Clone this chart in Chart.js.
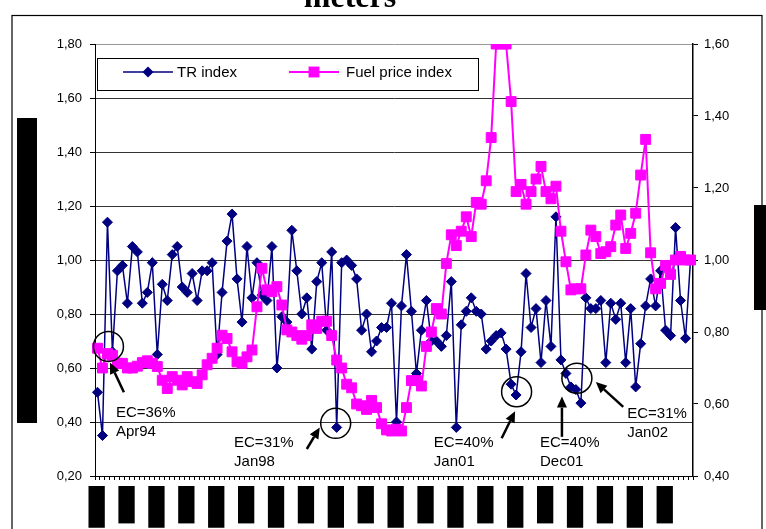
<!DOCTYPE html>
<html>
<head>
<meta charset="utf-8">
<script src="https://cdn.jsdelivr.net/npm/chart.js@4.4.1/dist/chart.umd.min.js"></script>
<style>
  body { margin: 0; background: #fff; }
  #chart { display: block; }
</style>
</head>
<body>
<canvas id="chart" width="766" height="529"></canvas>
<script>
// monthly categories Jan94 .. Dec03
const monthNames = ['Jan', 'Feb', 'Mar', 'Apr', 'May', 'Jun', 'Jul', 'Aug', 'Sep', 'Oct', 'Nov', 'Dec'];
const years = ['94', '95', '96', '97', '98', '99', '00', '01', '02', '03'];

const trIndex = [
  0.51, 0.35, 1.14, 0.66, 0.96, 0.98, 0.84, 1.05, 1.03, 0.84,
  0.88, 0.99, 0.65, 0.91, 0.85, 1.02, 1.05, 0.90, 0.88, 0.95,
  0.85, 0.96, 0.96, 0.99, 0.65, 0.88, 1.07, 1.17, 0.93, 0.77,
  1.05, 0.86, 0.99, 0.87, 0.85, 1.05, 0.60, 0.79, 0.77, 1.11,
  0.96, 0.80, 0.86, 0.67, 0.92, 0.99, 0.74, 1.03, 0.38, 0.99,
  1.00, 0.98, 0.93, 0.74, 0.80, 0.66, 0.70, 0.75, 0.75, 0.84,
  0.40, 0.83, 1.02, 0.81, 0.58, 0.74, 0.85, 0.70, 0.70, 0.68,
  0.72, 0.92, 0.38, 0.76, 0.81, 0.86, 0.81, 0.80, 0.67, 0.70,
  0.72, 0.73, 0.67, 0.54, 0.50, 0.66, 0.95, 0.75, 0.82, 0.62,
  0.85, 0.68, 1.16, 0.63, 0.58, 0.53, 0.52, 0.47, 0.86, 0.82,
  0.82, 0.85, 0.62, 0.84, 0.78, 0.84, 0.62, 0.82, 0.53, 0.69,
  0.83, 0.93, 0.83, 0.96, 0.74, 0.72, 1.12, 0.85, 0.71, 1.00
];

const fuelIndex = [
  0.755, 0.70, 0.74, 0.735, 0.713, 0.713, 0.70, 0.70, 0.705, 0.715,
  0.72, 0.713, 0.704, 0.666, 0.643, 0.676, 0.666, 0.653, 0.676, 0.662,
  0.657, 0.681, 0.709, 0.727, 0.755, 0.791, 0.782, 0.745, 0.717, 0.713,
  0.731, 0.75, 0.87, 0.977, 0.917, 0.912, 0.926, 0.875, 0.806, 0.80,
  0.79, 0.78, 0.79, 0.82, 0.81, 0.83, 0.83, 0.79, 0.722, 0.70,
  0.655, 0.645, 0.60, 0.595, 0.585, 0.61, 0.59, 0.545, 0.528, 0.525,
  0.53, 0.525, 0.59, 0.665, 0.665, 0.65, 0.76, 0.80, 0.865, 0.85,
  0.99, 1.07, 1.04, 1.08, 1.12, 1.065, 1.16, 1.155, 1.22, 1.34,
  1.60, 1.60, 1.60, 1.44, 1.19, 1.21, 1.155, 1.19, 1.225, 1.26,
  1.19, 1.17, 1.205, 1.08, 0.995, 0.917, 0.92, 0.92, 1.014, 1.083,
  1.065, 1.018, 1.023, 1.037, 1.097, 1.125, 1.032, 1.074, 1.13, 1.236,
  1.335, 1.02, 0.92, 0.935, 0.985, 0.96, 1.0, 1.01, 1.0, 1.0
];

// call-outs: text lines, and where they sit in data units (month index, left-axis value)
const noteText = [['EC=36%', 'Apr94'], ['EC=31%', 'Jan98'], ['EC=40%', 'Jan01'], ['EC=40%', 'Dec01'], ['EC=31%', 'Jan02']];
const noteCircle = [[2.2, 0.68], [47.8, 0.395], [84.1, 0.512], null, [96.2, 0.562]];
const noteArrowFrom = [[5.3, 0.51], [42.0, 0.30], [81.1, 0.34], [93.2, 0.345], [105.5, 0.456]];
const noteArrowTo = [[2.5, 0.62], [44.6, 0.38], [83.8, 0.44], [93.2, 0.494], [100.0, 0.548]];
const noteTextAt = [[3.7, 0.433], [27.4, 0.322], [67.5, 0.322], [88.8, 0.322], [106.3, 0.43]];

const labels = [];
years.forEach(y => monthNames.forEach(m => labels.push(m + '-' + y)));

const FONT = 'Liberation Sans, Arial, sans-serif';
const fmt = v => Number(v).toFixed(2).replace('.', ',');

function arrow(ctx, x1, y1, x2, y2) {
    const a = Math.atan2(y2 - y1, x2 - x1);
    const L = 11, W = 5;
    const bx = x2 - L * Math.cos(a), by = y2 - L * Math.sin(a);
    ctx.lineWidth = 2.5;
    ctx.beginPath();
    ctx.moveTo(x1, y1);
    ctx.lineTo(bx, by);
    ctx.stroke();
    ctx.beginPath();
    ctx.moveTo(x2, y2);
    ctx.lineTo(bx + W * Math.sin(a), by - W * Math.cos(a));
    ctx.lineTo(bx - W * Math.sin(a), by + W * Math.cos(a));
    ctx.closePath();
    ctx.fill();
}

const pagePlugin = {
    id: 'page',
    beforeDraw(chart) {
        const ctx = chart.ctx;
        ctx.save();
        ctx.fillStyle = '#fff';
        ctx.fillRect(0, 0, chart.width, chart.height);
        // outer frame
        ctx.strokeStyle = '#000';
        ctx.lineWidth = 1.2;
        ctx.strokeRect(12, 15.5, 750, 600);
        // cut-off title
        ctx.fillStyle = '#000';
        ctx.font = 'bold 32px Liberation Serif, Times New Roman, serif';
        ctx.textAlign = 'center';
        ctx.textBaseline = 'alphabetic';
        ctx.fillText('meters', 350, 7);
        // redacted axis titles
        ctx.fillRect(17, 118, 20, 305);
        ctx.fillRect(754, 205, 12, 105);
        ctx.save();
        ctx.translate(27, 270);
        ctx.rotate(-Math.PI / 2);
        ctx.font = '14px ' + FONT;
        ctx.fillText('TR index', 0, 5);
        ctx.restore();
        ctx.save();
        ctx.translate(760, 257);
        ctx.rotate(-Math.PI / 2);
        ctx.font = '11px ' + FONT;
        ctx.fillText('Fuel price index', 0, 4);
        ctx.restore();
        ctx.restore();
    },
    afterDraw(chart) {
        const { ctx, chartArea, scales } = chart;
        ctx.save();
        // legend box inside the plot
        const x0 = chartArea.left + 2, y0 = chartArea.top + 14, w = 381, h = 32;
        ctx.fillStyle = '#fff';
        ctx.fillRect(x0, y0, w, h);
        ctx.strokeStyle = '#000';
        ctx.lineWidth = 1;
        ctx.strokeRect(x0 + 0.5, y0 + 0.5, w, h);
        const cy = y0 + 14;
        const items = [
            { ds: chart.data.datasets[0], lx: x0 + 26, tx: x0 + 80 },
            { ds: chart.data.datasets[1], lx: x0 + 192, tx: x0 + 249 }
        ];
        items.forEach(it => {
            ctx.strokeStyle = it.ds.borderColor;
            ctx.fillStyle = it.ds.borderColor;
            ctx.lineWidth = it.ds.borderWidth;
            ctx.beginPath();
            ctx.moveTo(it.lx, cy);
            ctx.lineTo(it.lx + 50, cy);
            ctx.stroke();
            const mx = it.lx + 25;
            ctx.beginPath();
            if (it.ds.pointStyle === 'rectRot') {
                const r = it.ds.pointRadius + 0.5;
                ctx.moveTo(mx - r, cy); ctx.lineTo(mx, cy - r); ctx.lineTo(mx + r, cy); ctx.lineTo(mx, cy + r);
            } else {
                const s = Math.SQRT1_2 * it.ds.pointRadius + 0.5;
                ctx.rect(mx - s, cy - s, 2 * s, 2 * s);
            }
            ctx.closePath();
            ctx.fill();
            ctx.fillStyle = '#000';
            ctx.font = '15px ' + FONT;
            ctx.textAlign = 'left';
            ctx.textBaseline = 'middle';
            ctx.fillText(it.ds.label, it.tx, cy + 1);
        });

        // call-outs
        const px = p => [scales.x.getPixelForValue(p[0]), scales.y.getPixelForValue(p[1])];
        ctx.strokeStyle = '#000';
        ctx.fillStyle = '#000';
        noteText.forEach((lines, k) => {
            if (noteCircle[k]) {
                const c = px(noteCircle[k]);
                ctx.lineWidth = 1.5;
                ctx.beginPath();
                ctx.arc(c[0], c[1], 15, 0, Math.PI * 2);
                ctx.stroke();
            }
            const a = px(noteArrowFrom[k]), b = px(noteArrowTo[k]);
            arrow(ctx, a[0], a[1], b[0], b[1]);
            const t = px(noteTextAt[k]);
            ctx.font = '15px ' + FONT;
            ctx.textAlign = 'left';
            ctx.textBaseline = 'middle';
            ctx.fillText(lines[0], t[0], t[1]);
            ctx.fillText(lines[1], t[0], t[1] + 19);
        });
        ctx.restore();
    }
};

new Chart(document.getElementById('chart').getContext('2d'), {
    type: 'line',
    data: {
        labels,
        datasets: [{
            label: 'TR index',
            data: trIndex,
            yAxisID: 'y',
            borderColor: '#000080',
            backgroundColor: '#000080',
            borderWidth: 1.5,
            pointStyle: 'rectRot',
            pointRadius: 5,
            pointBorderWidth: 1,
            tension: 0,
            order: 1
        }, {
            label: 'Fuel price index',
            data: fuelIndex,
            yAxisID: 'y1',
            borderColor: '#FF00FF',
            backgroundColor: '#FF00FF',
            borderWidth: 2,
            pointStyle: 'rect',
            pointRadius: 7,
            pointBorderWidth: 1,
            tension: 0,
            order: 0
        }]
    },
    options: {
        responsive: false,
        animation: false,
        devicePixelRatio: 1,
        layout: { padding: { top: 44, left: 0, right: 0, bottom: 0 } },
        plugins: {
            legend: { display: false },
            tooltip: { enabled: false },
            title: { display: false }
        },
        scales: {
            x: {
                type: 'category',
                offset: true,
                grid: { offset: true, drawOnChartArea: false, drawTicks: true, tickLength: 4, color: '#000' },
                border: { display: true, color: '#000', width: 1 },
                ticks: {
                    autoSkip: false,
                    minRotation: 90,
                    maxRotation: 90,
                    padding: 7,
                    labelOffset: -8,
                    color: '#000',
                    font: { family: FONT, size: 13, lineHeight: 1.1 },
                    callback: (v, i) => (i % 6 === 0 ? labels[i] : ''),
                    showLabelBackdrop: true,
                    backdropColor: c => (c.index % 6 === 0 ? '#000' : 'rgba(0,0,0,0)'),
                    backdropPadding: 1
                },
                afterFit: s => { s.height = 53; }
            },
            y: {
                position: 'left',
                min: 0.2,
                max: 1.8,
                ticks: { stepSize: 0.2, callback: fmt, color: '#000', padding: 8, font: { family: FONT, size: 13 } },
                grid: {
                    color: c => (c.tick && Math.abs(c.tick.value - 1.8) < 1e-6 ? '#999' : '#333'),
                    tickColor: '#000',
                    tickLength: 5,
                    drawTicks: true
                },
                border: { display: true, color: '#000', width: 1 },
                afterFit: s => { s.width = 95; }
            },
            y1: {
                position: 'right',
                min: 0.4,
                max: 1.6,
                ticks: { stepSize: 0.2, callback: fmt, color: '#000', padding: 6, font: { family: FONT, size: 13 } },
                grid: { drawOnChartArea: false, tickLength: 5, color: '#000' },
                border: { display: true, color: '#000', width: 1.5 },
                afterFit: s => { s.width = 73; }
            }
        }
    },
    plugins: [pagePlugin]
});
</script>
</body>
</html>
